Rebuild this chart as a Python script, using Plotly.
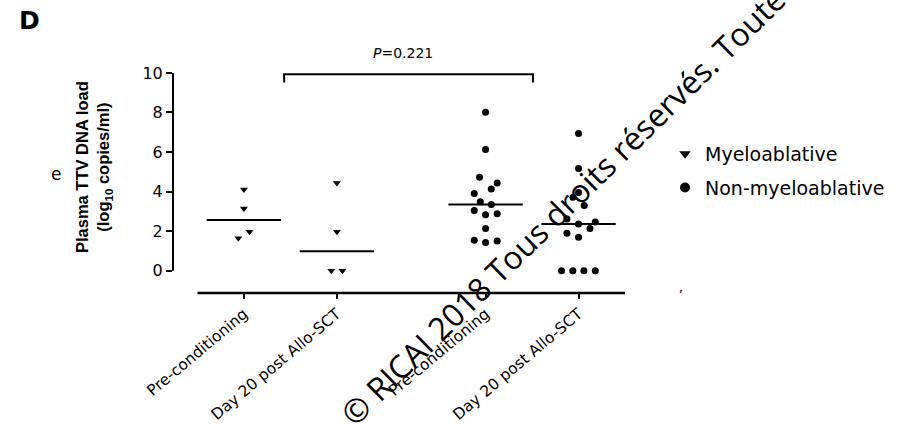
import numpy as np
import plotly.graph_objects as go

# ---------------- data ----------------
categories = ["Pre-conditioning", "Day 20 post Allo-SCT", "Pre-conditioning", "Day 20 post Allo-SCT"]
cat_pos = [1.0, 2.0, 3.6, 4.6]
series_names = ["Myeloablative", "Non-myeloablative"]

mye_pre = [4.11, 3.15, 1.97, 1.64]
mye_d20 = [4.44, 1.97, 0.0, 0.0]
nonmye_pre = [8.01, 6.13, 4.73, 4.44, 4.13, 3.91, 3.49, 3.35, 3.05, 2.83, 2.88, 2.14, 1.54, 1.43, 1.50]
nonmye_d20 = [6.94, 5.17, 3.96, 3.72, 3.30, 2.62, 2.36, 2.46, 2.14, 1.89, 1.69, 0.0, 0.0, 0.0, 0.0]

# horizontal swarm offsets (category units) as seen in the figure
mye_pre_dx = [0, 0, 0.06, -0.06]
mye_d20_dx = [0, 0, -0.06, 0.06]
nonmye_pre_dx = [0, 0, -0.065, 0.125, 0.061, -0.122, -0.057, 0.061, -0.122, 0, 0.125, 0, -0.122, 0, 0.125]
nonmye_d20_dx = [0, 0, 0, -0.06, 0.061, -0.125, 0, 0.18, 0.123, -0.125, 0, -0.183, -0.061, 0.058, 0.18]

y_ticks = [0, 2, 4, 6, 8, 10]
p_label = "<i>P</i>=0.221"
y_title = "<b>Plasma TTV DNA load<br>(log<sub>10</sub> copies/ml)</b>"
watermark = "© RICAI 2018 Tous droits réservés. Toute"

# ---------------- layout geometry ----------------
W, H = 920, 425
ML, MR, MT, MB = 173, 295, 67, 132
PW, PH = W - ML - MR, H - MT - MB
XR = [0.237, 5.1]
YR = [-1.126, 10.30]


def px(xp):
    return (xp - ML) / PW


def py(yp):
    return (H - MB - yp) / PH


def yv(v):
    return (v - YR[0]) / (YR[1] - YR[0])


def xv(v):
    return (v - XR[0]) / (XR[1] - XR[0])


groups = [
    (cat_pos[0], mye_pre, mye_pre_dx, "triangle-down", 7),
    (cat_pos[1], mye_d20, mye_d20_dx, "triangle-down", 7),
    (cat_pos[2], nonmye_pre, nonmye_pre_dx, "circle", 7),
    (cat_pos[3], nonmye_d20, nonmye_d20_dx, "circle", 7),
]

fig = go.Figure()
for pos, vals, dx, sym, sz in groups:
    fig.add_trace(go.Scatter(
        x=[pos + d for d in dx], y=vals, mode="markers",
        marker=dict(symbol=sym, size=sz, color="black", line=dict(width=0)),
        showlegend=False, hoverinfo="y"))
    med = float(np.median(vals))
    fig.add_trace(go.Scatter(
        x=[pos - 0.4, pos + 0.4], y=[med, med], mode="lines",
        line=dict(color="black", width=2), showlegend=False, hoverinfo="skip"))

# legend entries
fig.add_trace(go.Scatter(x=[None], y=[None], mode="markers", name=series_names[0],
                         legendgroup="a",
                         marker=dict(symbol="triangle-down", size=10, color="black")))
fig.add_trace(go.Scatter(x=[None], y=[None], mode="markers", name=series_names[1],
                         legendgroup="b",
                         marker=dict(symbol="circle", size=10, color="black")))

shapes = [
    # y axis line from 0 to 10
    dict(type="line", xref="paper", yref="paper", x0=0, x1=0, y0=yv(0), y1=yv(10),
         line=dict(color="black", width=2)),
    # x axis line
    dict(type="line", xref="paper", yref="paper", x0=xv(0.5), x1=1, y0=0, y1=0,
         line=dict(color="black", width=2.5)),
    # significance bracket
    dict(type="path", xref="x", yref="y",
         path="M 1.433,9.52 L 1.433,9.93 L 4.11,9.93 L 4.11,9.52",
         line=dict(color="black", width=2)),
]

annotations = [
    dict(text="<b>D</b>", xref="paper", yref="paper", x=px(29), y=py(21),
         showarrow=False, xanchor="center", yanchor="middle",
         font=dict(family="DejaVu Sans", size=25, color="black")),
    dict(text="e", xref="paper", yref="paper", x=px(56), y=py(174),
         showarrow=False, xanchor="center", yanchor="middle",
         font=dict(family="DejaVu Sans", size=17, color="black")),
    dict(text=y_title, xref="paper", yref="paper", x=px(94), y=py(167),
         showarrow=False, xanchor="center", yanchor="middle", textangle=-90,
         font=dict(family="Liberation Sans", size=16.5, color="black")),
    dict(text=p_label, xref="paper", yref="paper", x=px(403), y=py(53),
         showarrow=False, xanchor="center", yanchor="middle",
         font=dict(family="DejaVu Sans", size=14, color="black")),
    dict(text=",", xref="paper", yref="paper", x=px(681), y=py(288),
         showarrow=False, xanchor="center", yanchor="middle",
         font=dict(family="DejaVu Sans", size=12, color="black")),
    dict(text=watermark, xref="paper", yref="paper", x=px(562), y=py(206),
         showarrow=False, xanchor="center", yanchor="middle", textangle=-44.5,
         font=dict(family="Open Sans", size=32, color="black")),
]

fig.update_layout(
    width=W, height=H,
    margin=dict(l=ML, r=MR, t=MT, b=MB, pad=0, autoexpand=False),
    paper_bgcolor="white", plot_bgcolor="white",
    xaxis=dict(range=XR, tickvals=cat_pos, ticktext=categories, tickangle=-40,
               ticks="outside", ticklen=5, tickwidth=2, tickcolor="black",
               showline=False, showgrid=False, zeroline=False, automargin=False,
               tickfont=dict(family="DejaVu Sans", size=15.5, color="black")),
    yaxis=dict(range=YR, tickvals=y_ticks, ticks="outside", ticklen=6, tickwidth=2,
               tickcolor="black", showline=False, showgrid=False, zeroline=False,
               automargin=False,
               tickfont=dict(family="DejaVu Sans", size=16, color="black")),
    legend=dict(x=px(665), y=py(135), xanchor="left", yanchor="top",
                tracegroupgap=6, bgcolor="rgba(0,0,0,0)",
                font=dict(family="DejaVu Sans", size=19, color="black")),
    shapes=shapes,
    annotations=annotations,
)

fig.write_html("out.html")
